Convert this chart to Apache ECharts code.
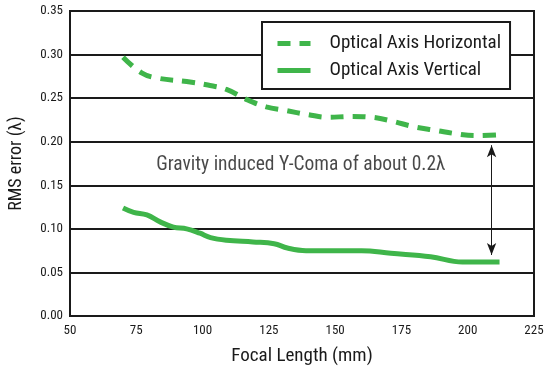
<!DOCTYPE html>
<html><head><meta charset="utf-8">
<script src="https://cdn.jsdelivr.net/npm/echarts@6/dist/echarts.min.js"></script>
<style>html,body{margin:0;padding:0;background:#fff}#c{width:550px;height:377px}</style>
</head><body><div id="c"></div>
<script>
const xTicks = [50, 75, 100, 125, 150, 175, 200, 225];
const horizontalX = [70, 77, 83, 94, 102, 109, 117, 124, 131, 140, 147, 156, 164, 171, 180, 188, 196, 203, 212];
const horizontalY = [0.297, 0.279, 0.273, 0.269, 0.265, 0.260, 0.248, 0.240, 0.236, 0.231, 0.228, 0.229, 0.228, 0.224, 0.217, 0.213, 0.209, 0.207, 0.208];
const verticalX = [70, 74, 79, 84, 89, 94, 99, 103, 109, 119, 127, 132, 139, 147, 160, 171, 186, 198, 203, 212];
const verticalY = [0.124, 0.119, 0.116, 0.108, 0.102, 0.100, 0.095, 0.090, 0.087, 0.085, 0.083, 0.078, 0.075, 0.075, 0.075, 0.072, 0.068, 0.062, 0.062, 0.062];
const arrowX = 209;
const arrowTop = 0.196;
const arrowBottom = 0.070;
const noteText = 'Gravity induced Y-Coma of about 0.2λ';
const noteX = 82.5;
const noteY = 0.173;

const FONT = '"Roboto Condensed", "DejaVu Sans Condensed", sans-serif';
const INK = '#1a1a1a';
const GREEN = '#3fb54a';
const chart = echarts.init(document.getElementById('c'));
chart.setOption({
  animation: false,
  backgroundColor: '#fff',
  grid: {left: 70, right: 16, top: 11, bottom: 61, outerBoundsMode: 'none', containLabel: false,
    show: true, borderColor: INK, borderWidth: 2, backgroundColor: 'transparent'},
  legend: {
    show: true, orient: 'vertical', left: 262, top: 22,
    padding: [12, 9, 9, 13], itemGap: 8, itemWidth: 33, itemHeight: 14,
    borderColor: INK, borderWidth: 2, backgroundColor: '#fff', borderRadius: 0,
    itemStyle: {opacity: 0},
    lineStyle: {width: 5},
    textStyle: {fontFamily: FONT, fontSize: 19, color: INK, padding: [0, 0, 0, 14]},
    data: ['Optical Axis Horizontal', 'Optical Axis Vertical']
  },
  xAxis: {
    type: 'value', min: 50, max: 225, interval: 25,
    name: 'Focal Length (mm)', nameLocation: 'middle', nameGap: 31,
    nameTextStyle: {fontFamily: FONT, fontSize: 19, color: INK},
    axisLine: {show: true, lineStyle: {color: INK, width: 2}},
    axisTick: {show: false}, splitLine: {show: false},
    axisLabel: {fontFamily: FONT, fontSize: 13, color: INK, margin: 8,
      formatter: v => xTicks.includes(v) ? String(v) : ''}
  },
  yAxis: {
    type: 'value', min: 0, max: 0.35, interval: 0.05,
    name: 'RMS error (λ)', nameLocation: 'middle', nameGap: 45,
    nameTextStyle: {fontFamily: FONT, fontSize: 18, color: INK},
    axisLine: {show: true, lineStyle: {color: INK, width: 2}},
    axisTick: {show: false},
    splitLine: {show: true, lineStyle: {color: INK, width: 2}},
    axisLabel: {fontFamily: FONT, fontSize: 13, color: INK, margin: 7, formatter: v => v.toFixed(2)}
  },
  series: [
    {
      name: 'Optical Axis Horizontal', type: 'line', smooth: 0.4, symbol: 'none',
      data: horizontalX.map((x, i) => [x, horizontalY[i]]),
      lineStyle: {color: GREEN, width: 5, type: [13, 9]}, itemStyle: {color: GREEN}, z: 3
    },
    {
      name: 'Optical Axis Vertical', type: 'line', smooth: 0.4, symbol: 'none',
      data: verticalX.map((x, i) => [x, verticalY[i]]),
      lineStyle: {color: GREEN, width: 5}, itemStyle: {color: GREEN}, z: 3,
      markLine: {
        silent: true, symbol: ['arrow', 'arrow'], symbolSize: [7, 12],
        lineStyle: {color: INK, width: 1, type: 'solid'}, label: {show: false},
        emphasis: {disabled: true},
        data: [[{coord: [arrowX, arrowTop]}, {coord: [arrowX, arrowBottom]}]]
      }
    },
    {
      name: 'note', type: 'scatter', symbolSize: 0, silent: true,
      emphasis: {disabled: true},
      data: [[noteX, noteY]],
      label: {show: true, position: 'right', distance: 0, formatter: noteText,
        fontFamily: FONT, fontSize: 19.5, color: INK}
    }
  ]
});
</script></body></html>
